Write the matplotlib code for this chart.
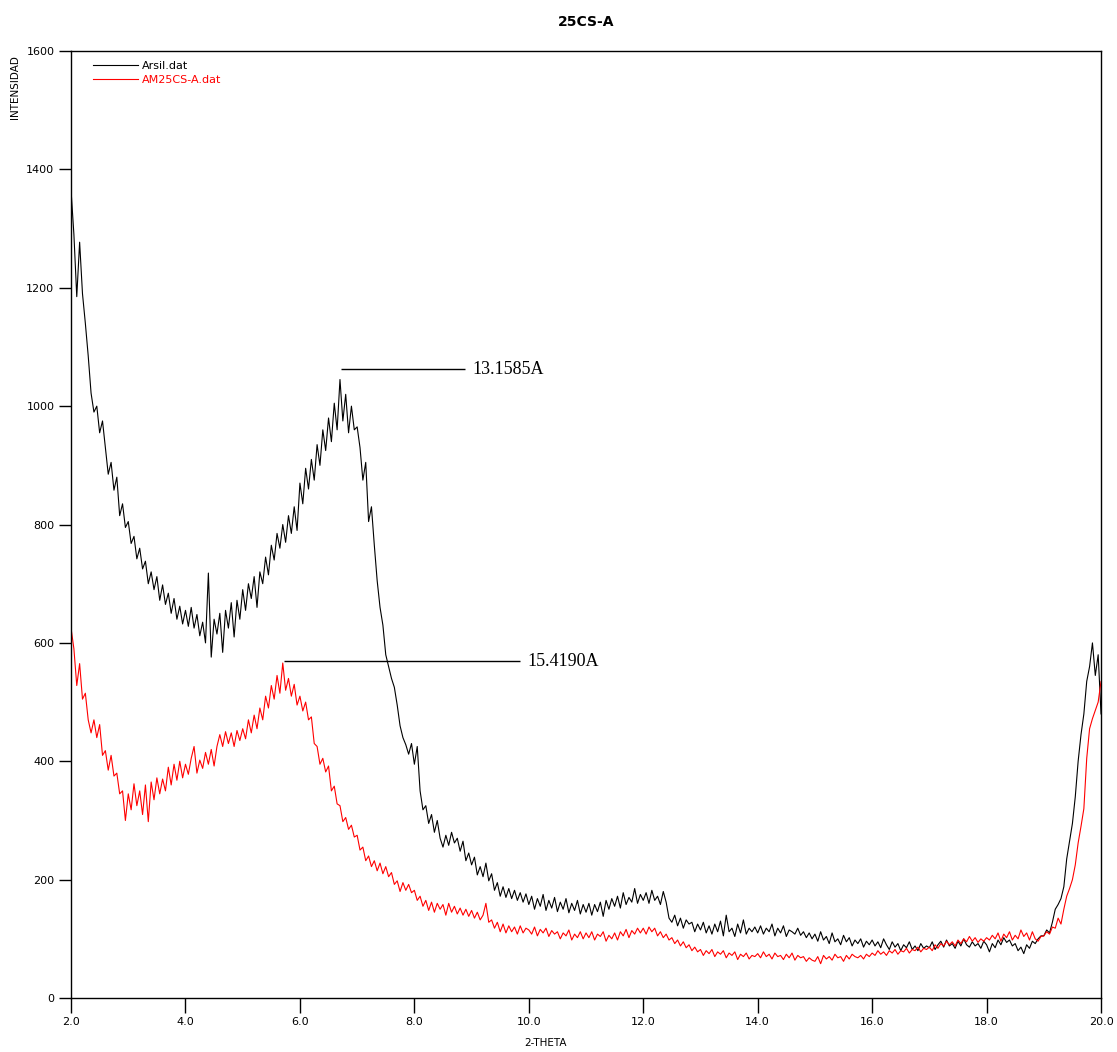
import numpy as np
import matplotlib
matplotlib.use("Agg")
import matplotlib.pyplot as plt

# 2-theta grid, 0.05 deg step from 2.0 to 20.0
two_theta = np.round(np.arange(2.0, 20.0001, 0.05), 2)

# Arsil.dat (black)
arsil = [
    1365, 1290, 1185, 1277, 1190, 1140, 1085, 1022, 990, 1000, 955, 975, 930, 885, 905, 858, 880, 815, 835, 795,
    805, 768, 780, 742, 760, 725, 738, 700, 720, 690, 712, 672, 698, 665, 684, 650, 675, 640, 662, 632,
    655, 628, 660, 625, 648, 612, 635, 600, 718, 576, 640, 615, 650, 584, 655, 625, 668, 610, 672, 640,
    690, 655, 700, 675, 712, 660, 720, 700, 745, 715, 765, 740, 785, 760, 800, 770, 815, 785, 830, 790,
    870, 835, 895, 860, 910, 875, 935, 900, 960, 925, 980, 940, 1005, 960, 1045, 975, 1020, 955, 1000, 960,
    965, 930, 875, 905, 805, 830, 765, 705, 660, 630, 580, 560, 540, 525, 495, 460, 440, 428, 412, 430,
    395, 425, 350, 318, 325, 295, 310, 280, 300, 270, 255, 275, 258, 280, 262, 270, 248, 265, 232, 245,
    225, 238, 208, 222, 205, 228, 198, 210, 182, 195, 172, 188, 170, 185, 168, 182, 165, 178, 162, 176,
    158, 172, 150, 168, 155, 175, 148, 165, 152, 170, 146, 162, 150, 168, 144, 160, 148, 165, 142, 158,
    145, 160, 140, 158, 146, 162, 138, 165, 150, 168, 155, 172, 152, 178, 158, 170, 162, 185, 160, 175,
    165, 178, 160, 182, 165, 172, 158, 180, 162, 135, 128, 140, 122, 135, 118, 132, 125, 128, 112, 125,
    115, 128, 110, 122, 108, 125, 112, 130, 105, 140, 112, 118, 104, 125, 110, 132, 108, 118, 112, 120,
    110, 122, 108, 118, 112, 125, 105, 118, 110, 122, 104, 115, 112, 108, 118, 106, 112, 102, 110, 100,
    108, 96, 112, 98, 104, 92, 110, 95, 100, 90, 106, 95, 102, 88, 98, 92, 100, 86, 96, 90,
    98, 88, 95, 85, 100, 90, 82, 95, 86, 92, 80, 90, 85, 95, 82, 88, 80, 92, 84, 88,
    85, 95, 82, 90, 96, 86, 98, 88, 92, 84, 96, 88, 100, 90, 86, 95, 88, 92, 84, 96,
    90, 78, 92, 85, 98, 90, 102, 94, 98, 88, 92, 80, 86, 75, 90, 84, 96, 92, 100, 105,
    105, 115, 110, 128, 150, 158, 168, 188, 235, 265, 295, 340, 400, 445, 480, 535, 560, 600, 545, 580,
    480,
]

# AM25CS-A.dat (red)
am25cs = [
    625, 590, 528, 565, 505, 515, 470, 448, 470, 440, 462, 410, 418, 385, 410, 375, 380, 345, 350, 300,
    345, 318, 362, 325, 350, 310, 360, 298, 365, 335, 372, 345, 370, 350, 390, 360, 395, 368, 400, 372,
    395, 378, 405, 425, 380, 402, 388, 415, 395, 420, 392, 425, 445, 425, 450, 430, 448, 425, 452, 435,
    455, 438, 470, 448, 478, 455, 490, 470, 510, 490, 528, 505, 545, 515, 566, 520, 540, 510, 530, 495,
    510, 485, 500, 470, 475, 430, 425, 395, 405, 382, 392, 350, 358, 328, 325, 298, 305, 285, 292, 272,
    275, 250, 255, 232, 240, 222, 232, 215, 228, 210, 222, 205, 212, 192, 198, 180, 195, 182, 192, 178,
    182, 165, 172, 155, 165, 148, 162, 145, 160, 150, 158, 140, 160, 145, 155, 142, 152, 140, 150, 138,
    148, 135, 145, 132, 140, 160, 128, 132, 118, 128, 112, 125, 110, 122, 112, 120, 108, 122, 110, 118,
    115, 108, 120, 105, 116, 110, 118, 104, 114, 108, 112, 100, 110, 105, 115, 98, 108, 102, 112, 100,
    110, 102, 112, 98, 108, 104, 112, 96, 106, 100, 110, 98, 112, 105, 116, 102, 114, 108, 118, 110,
    118, 108, 120, 112, 118, 105, 112, 102, 108, 98, 102, 92, 98, 88, 95, 85, 90, 80, 86, 78,
    82, 72, 80, 75, 82, 70, 78, 74, 80, 68, 76, 72, 78, 65, 74, 70, 76, 66, 72, 70,
    75, 68, 78, 70, 74, 66, 76, 70, 72, 65, 74, 68, 76, 64, 72, 68, 70, 62, 68, 64,
    62, 70, 58, 72, 66, 70, 64, 74, 68, 70, 62, 72, 66, 74, 70, 68, 72, 66, 74, 70,
    76, 72, 80, 74, 78, 72, 80, 76, 82, 74, 80, 78, 84, 76, 82, 80, 86, 78, 84, 82,
    86, 80, 90, 84, 92, 88, 96, 90, 95, 88, 98, 92, 100, 95, 104, 96, 102, 94, 100, 96,
    102, 98, 106, 100, 110, 96, 108, 102, 112, 98, 106, 100, 115, 104, 110, 98, 112, 100, 96, 104,
    105, 112, 108, 120, 118, 135, 125, 150, 172, 185, 200, 225, 262, 290, 320, 405, 455, 472, 486, 500,
    535,
]

# peak labels (d-spacing), peak position and where the leader line ends
peak_labels = ["13.1585A", "15.4190A"]
peak_x = [6.72, 5.72]
peak_y = [1062, 569]
leader_end = [8.89, 9.85]

fig = plt.figure(figsize=(11.17, 10.52), dpi=100)
ax = fig.add_axes([0.0636, 0.0513, 0.9221, 0.9002])

ax.plot(two_theta, arsil, color="black", lw=0.8, label="Arsil.dat")
ax.plot(two_theta, am25cs, color="red", lw=0.8, label="AM25CS-A.dat")

for lab, px, py, xe in zip(peak_labels, peak_x, peak_y, leader_end):
    ax.hlines(py, px, xe, color="black", lw=1)
    ax.text(xe + 0.12, py, lab, fontsize=13, family="Liberation Serif",
            va="center", ha="left")

ax.set_xlim(2, 20)
ax.set_ylim(0, 1600)
ax.set_xticks(np.arange(2, 20.1, 2))
ax.set_xticklabels([f"{v:.1f}" for v in np.arange(2, 20.1, 2)])
ax.set_yticks(np.arange(0, 1601, 200))
ax.tick_params(axis="x", direction="out", length=11, width=1, labelsize=8, pad=3)
ax.tick_params(axis="y", direction="out", length=9, width=1, labelsize=8, pad=3)
for s in ax.spines.values():
    s.set_linewidth(1)

leg = ax.legend(loc="upper left", bbox_to_anchor=(0.012, 1.0), frameon=False,
                fontsize=8, handlelength=4.0, handletextpad=0.4, labelspacing=0.35,
                labelcolor="linecolor")

fig.text(0.5246, 0.979, "25CS-A", ha="center", va="center", fontsize=10, fontweight="bold")
fig.text(0.488, 0.009, "2-THETA", ha="center", va="center", fontsize=7.5)
fig.text(0.0135, 0.948, "INTENSIDAD", ha="center", va="top", rotation=90, fontsize=7.5)

fig.savefig("out.png", dpi=100)
